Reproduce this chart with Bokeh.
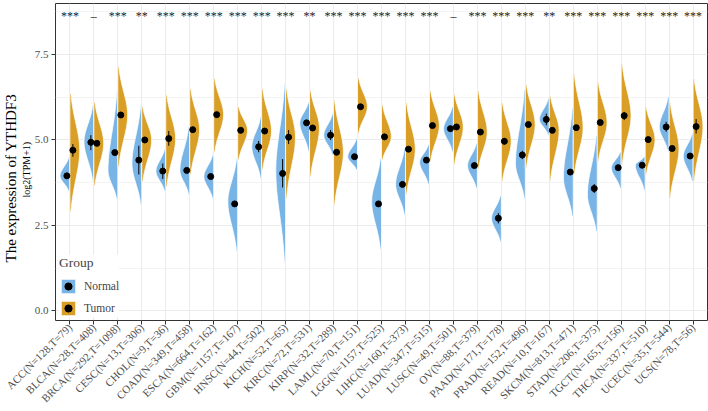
import numpy as np
from bokeh.plotting import figure
from bokeh.models import (Range1d, FixedTicker, NumeralTickFormatter, Title,
                          Legend, LegendItem)
from bokeh.core.properties import value
from bokeh.embed import file_html
from bokeh.resources import INLINE

# ---------------- data ----------------
cancers = ["ACC", "BLCA", "BRCA", "CESC", "CHOL", "COAD", "ESCA", "GBM", "HNSC",
           "KICH", "KIRC", "KIRP", "LAML", "LGG", "LIHC", "LUAD", "LUSC", "OV",
           "PAAD", "PRAD", "READ", "SKCM", "STAD", "TGCT", "THCA", "UCEC", "UCS"]
n_normal = [128, 28, 292, 13, 9, 349, 664, 1157, 44, 52, 72, 32, 70, 1157, 160,
            347, 49, 88, 171, 152, 10, 813, 206, 165, 337, 35, 78]
n_tumor = [79, 408, 1098, 306, 36, 458, 162, 167, 502, 65, 531, 289, 151, 525,
           373, 515, 501, 379, 178, 496, 167, 471, 375, 156, 510, 544, 56]
signif = ["***", "\u2013", "***", "**", "***", "***", "***", "***", "***",
          "***", "**", "***", "***", "***", "***", "***", "\u2013", "***",
          "***", "***", "**", "***", "***", "***", "***", "***", "***"]

# median points
normal_med = [3.95, 4.93, 4.63, 4.41, 4.09, 4.11, 3.93, 3.13, 4.80, 4.02, 5.50,
              5.14, 4.51, 3.13, 3.70, 4.41, 5.33, 4.25, 2.71, 4.56, 5.60, 4.06,
              3.58, 4.19, 4.26, 5.38, 4.53]
tumor_med = [4.70, 4.90, 5.73, 5.00, 5.04, 5.30, 5.74, 5.28, 5.26, 5.08, 5.35,
             4.64, 5.97, 5.09, 4.73, 5.42, 5.38, 5.23, 4.96, 5.45, 5.28, 5.36,
             5.51, 5.71, 5.01, 4.75, 5.39]
# error bar ranges
normal_err_lo = [3.90, 4.70, 4.55, 3.99, 3.86, 4.06, 3.90, 3.10, 4.64, 3.61, 5.44,
                 5.00, 4.45, 3.10, 3.65, 4.36, 5.26, 4.20, 2.56, 4.44, 5.43, 4.01,
                 3.45, 4.14, 4.21, 5.24, 4.47]
normal_err_hi = [4.00, 5.14, 4.71, 4.83, 4.31, 4.16, 3.96, 3.16, 4.97, 4.44, 5.56,
                 5.29, 4.57, 3.16, 3.75, 4.46, 5.40, 4.30, 2.86, 4.68, 5.77, 4.11,
                 3.71, 4.24, 4.31, 5.53, 4.59]
tumor_err_lo = [4.51, 4.85, 5.70, 4.94, 4.83, 5.25, 5.71, 5.22, 5.22, 4.88, 5.31,
                4.59, 5.92, 5.04, 4.67, 5.37, 5.33, 5.18, 4.86, 5.40, 5.22, 5.30,
                5.46, 5.58, 4.96, 4.69, 5.19]
tumor_err_hi = [4.88, 4.95, 5.76, 5.06, 5.26, 5.35, 5.77, 5.34, 5.30, 5.29, 5.39,
                4.69, 6.02, 5.14, 4.79, 5.47, 5.43, 5.28, 5.06, 5.50, 5.34, 5.42,
                5.56, 5.82, 5.06, 4.81, 5.61]
# violin extents and modes
normal_lo = [3.49, 3.78, 3.25, 3.10, 3.49, 3.40, 3.28, 1.73, 3.87, 1.39, 4.65,
             4.56, 4.12, 1.79, 2.80, 3.69, 4.65, 3.58, 2.02, 3.29, 5.14, 2.76,
             2.32, 3.58, 3.53, 4.65, 3.78]
normal_hi = [4.50, 6.02, 6.41, 6.03, 4.74, 5.40, 4.57, 4.46, 5.68, 6.65, 6.11,
             5.77, 5.04, 4.46, 4.75, 4.86, 5.97, 4.90, 3.37, 6.46, 6.21, 5.92,
             5.14, 4.65, 4.51, 6.26, 5.19]
normal_mode = [3.95, 4.95, 4.10, 4.30, 4.09, 4.11, 3.93, 3.20, 4.80, 4.10, 5.50,
               5.14, 4.51, 3.20, 3.70, 4.35, 5.33, 4.25, 2.71, 4.30, 5.60, 3.90,
               3.40, 4.19, 4.26, 5.38, 4.53]
tumor_lo = [2.90, 3.66, 4.22, 3.78, 3.63, 3.98, 4.65, 4.42, 4.13, 3.29, 3.92,
            3.10, 5.19, 4.42, 3.39, 4.36, 4.27, 4.13, 3.78, 4.17, 3.78, 3.97,
            4.36, 4.27, 3.97, 3.29, 3.78]
tumor_hi = [6.36, 6.11, 7.14, 5.97, 6.32, 6.50, 6.80, 5.97, 6.50, 6.50, 6.46,
            6.16, 6.82, 6.03, 6.11, 6.46, 6.36, 6.46, 6.11, 6.65, 6.31, 6.94,
            6.70, 7.23, 5.97, 6.11, 6.80]
tumor_mode = tumor_med

labels = [f"{c}(N={a},T={b})" for c, a, b in zip(cancers, n_normal, n_tumor)]

# ---------------- style ----------------
BLUE = "#79B4E6"
GOLD = "#D99E25"
FONT = "Liberation Serif"
OFF = 0.125
W = 0.41

xs = np.arange(1, len(cancers) + 1)


def violin(center, side, lo, hi, mode, n=60):
    ys = np.linspace(lo, hi, n)
    s_lo = max(mode - lo, 0.05) / 2.1
    s_hi = max(hi - mode, 0.05) / 2.1
    s = np.where(ys < mode, s_lo, s_hi)
    w = W * np.exp(-0.5 * ((ys - mode) / s) ** 2)
    px = np.concatenate([[center], center + side * w, [center]])
    py = np.concatenate([[lo], ys, [hi]])
    return list(px), list(py)


nvx, nvy, tvx, tvy = [], [], [], []
for i, c in enumerate(xs):
    a, b = violin(c, -1, normal_lo[i], normal_hi[i], normal_mode[i])
    nvx.append(a); nvy.append(b)
    a, b = violin(c, 1, tumor_lo[i], tumor_hi[i], tumor_mode[i])
    tvx.append(a); tvy.append(b)

p = figure(width=708, height=411, x_range=Range1d(0.4, 27.6),
           y_range=Range1d(-0.28, 8.99), output_backend="svg",
           toolbar_location=None, min_border_left=51, min_border_right=1,
           min_border_top=3, min_border_bottom=88)
p.background_fill_color = "white"
p.border_fill_color = "white"
p.outline_line_color = "#333333"
p.outline_line_width = 1

# axes
p.xaxis.ticker = FixedTicker(ticks=list(xs))
p.xaxis.major_label_overrides = {int(x): l for x, l in zip(xs, labels)}
p.xaxis.major_label_orientation = np.pi / 4
p.yaxis.ticker = FixedTicker(ticks=[0, 2.5, 5, 7.5],
                             minor_ticks=[1.25, 3.75, 6.25, 8.75])
p.yaxis.formatter = NumeralTickFormatter(format="0.0")
for ax in (p.xaxis, p.yaxis):
    ax.axis_line_color = None
    ax.major_tick_line_color = "#333333"
    ax.major_tick_out = 4
    ax.major_tick_in = 0
    ax.minor_tick_line_color = None
    ax.major_label_text_font = FONT
    ax.major_label_text_font_size = "11px"
    ax.major_label_text_color = "#4D4D4D"
    ax.major_label_standoff = 3
p.xaxis.major_label_standoff = 1

# y titles: small line (closer to axis) then large line
p.add_layout(Title(text="log2(TPM+1)", align="left", offset=123,
                   text_font=FONT, text_font_size="10px",
                   text_font_style="normal", text_color="black",
                   standoff=0), "left")
p.add_layout(Title(text="The expression of YTHDF3", align="left", offset=58,
                   text_font=FONT, text_font_size="15px",
                   text_font_style="normal", text_color="black",
                   standoff=0), "left")

p.xgrid.grid_line_color = "#EBEBEB"
p.xgrid.grid_line_width = 1
p.ygrid.grid_line_color = "#EBEBEB"
p.ygrid.grid_line_width = 1
p.ygrid.minor_grid_line_color = "#F0F0F0"
p.ygrid.minor_grid_line_width = 0.8

# violins
rn = p.patches(xs=nvx, ys=nvy, fill_color=BLUE, line_color="white", line_width=0.8)
rt = p.patches(xs=tvx, ys=tvy, fill_color=GOLD, line_color="white", line_width=0.8)

# error bars and medians
p.segment(x0=xs - OFF, x1=xs - OFF, y0=normal_err_lo, y1=normal_err_hi,
          line_color="black", line_width=1)
p.segment(x0=xs + OFF, x1=xs + OFF, y0=tumor_err_lo, y1=tumor_err_hi,
          line_color="black", line_width=1)
dn = p.scatter(x=xs - OFF, y=normal_med, size=6, color="black")
dt = p.scatter(x=xs + OFF, y=tumor_med, size=6, color="black")

# significance
p.text(x=xs, y=[8.63] * len(xs), text=signif, text_font=value(FONT),
       text_font_size=value("12px"), text_color="#1A1A1A",
       text_align="center", text_baseline="middle")

legend = Legend(items=[LegendItem(label="Normal", renderers=[rn, dn]),
                       LegendItem(label="Tumor", renderers=[rt, dt])],
                title="Group", location=(4, 3), orientation="vertical")
legend.title_text_font = FONT
legend.title_text_font_size = "13.5px"
legend.title_text_font_style = "normal"
legend.title_standoff = 6
legend.label_text_font = FONT
legend.label_text_font_size = "11.5px"
legend.glyph_width = 18
legend.glyph_height = 18
legend.label_height = 18
legend.label_standoff = 7
legend.spacing = 4
legend.padding = 4
legend.margin = 0
legend.border_line_color = None
legend.background_fill_color = "white"
legend.background_fill_alpha = 1
p.add_layout(legend)

open("out.html", "w").write(file_html(p, INLINE))
